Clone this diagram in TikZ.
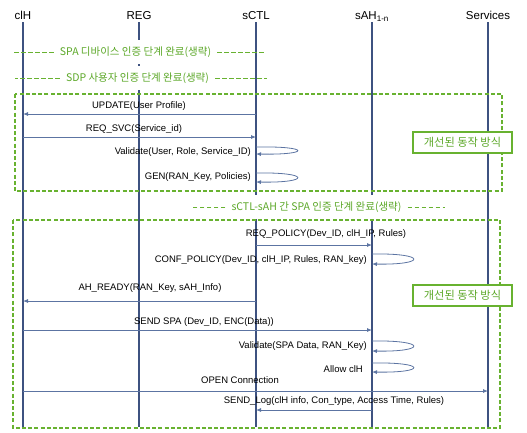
\documentclass[tikz,border=0pt]{standalone}
\usepackage{fontspec}
\setmainfont{Liberation Sans}
\newfontfamily\kr{Noto Sans CJK KR}
\usetikzlibrary{arrows.meta}

\definecolor{lifec}{RGB}{62,82,128}
\definecolor{msgc}{RGB}{92,116,162}
\definecolor{grn}{RGB}{104,178,48}
\definecolor{grntxt}{RGB}{92,168,40}

\tikzset{
  head/.style={font=\fontsize{11.5}{12}\selectfont, inner sep=1pt, text height=8.5pt, text depth=2pt},
  lifeline/.style={draw=lifec, line width=1.4pt},
  msg/.style={draw=msgc, line width=0.8pt, -{Latex[length=5pt,width=4pt]}},
  lbl/.style={font=\fontsize{9.5}{10}\selectfont, inner sep=1pt},
  phase/.style={font=\kr\fontsize{10.5}{12}\selectfont, text=grntxt, fill=white, inner xsep=6pt, inner ysep=7pt},
  phaseline/.style={draw=grn, line width=0.9pt, dash pattern=on 4.5pt off 2.5pt},
  area/.style={draw=grn, line width=1.5pt, dash pattern=on 4pt off 2.2pt},
  note/.style={font=\kr\fontsize{11.2}{12}\selectfont, text=grntxt, draw=grn, line width=1.2pt, fill=white, minimum width=99pt, minimum height=21pt}
}

\begin{document}
\begin{tikzpicture}[x=1pt,y=-1pt]
  \useasboundingbox (0,0) rectangle (527,432);

  % Participants
  \node[head] (clH) at (23,16) {clH};
  \node[head] (REG) at (139,16) {REG};
  \node[head] (sCTL) at (256,16) {sCTL};
  \node[head] (sAH) at (372,16) {sAH\textsubscript{1-n}};
  \node[head] (Services) at (488,16) {Services};
  \coordinate (bot) at (0,427);

  % Lifelines
  \foreach \p in {clH,REG,sCTL,sAH,Services} {
    \draw[lifeline] (\p.south) -- (\p.south |- bot);
  }

  % Improved areas
  \draw[area] (15,94) rectangle (502,191);
  \draw[area] (13,220) rectangle (500,428);

  % Skipped phases
  \node[phase] (ph1) at (135.5,52) {SPA 디바이스 인증 단계 완료(생략)};
  \draw[phaseline] (ph1.west) -- ++(-40,0);
  \draw[phaseline] (ph1.east) -- ++(47,0);

  \node[phase] (ph2) at (137.5,78) {SDP 사용자 인증 단계 완료(생략)};
  \draw[phaseline] (ph2.west) -- ++(-45,0);
  \draw[phaseline] (ph2.east) -- ++(52,0);

  \node[phase] (ph3) at (316.5,207) {sCTL-sAH 간 SPA 인증 단계 완료(생략)};
  \draw[phaseline] (ph3.west) -- ++(-32,0);
  \draw[phaseline] (ph3.east) -- ++(37,0);

  % First area
  \coordinate (m1) at (0,114);
  \node[lbl] (updL) at (139,106) {UPDATE(User Profile)};
  \draw[msg] (sCTL |- m1) -- (clH |- m1);

  \coordinate (m2) at (0,137);
  \node[lbl] (reqL) at (134,129) {REQ\_SVC(Service\_id)};
  \draw[msg] (clH |- m2) -- (sCTL |- m2);

  \coordinate (l1a) at (0,147);
  \coordinate (l1b) at (0,154);
  \node[lbl, anchor=east] (valL) at (252,152) {Validate(User, Role, Service\_ID)};
  \draw[msg] (sCTL |- l1a) .. controls +(55,-1) and +(55,1) .. (sCTL |- l1b);

  \coordinate (l2a) at (0,173);
  \coordinate (l2b) at (0,182);
  \node[lbl, anchor=east] (genL) at (252,177) {GEN(RAN\_Key, Policies)};
  \draw[msg] (sCTL |- l2a) .. controls +(55,-1) and +(55,1) .. (sCTL |- l2b);

  \node[note] (note1) at (462.5,142.5) {개선된 동작 방식};

  % Second area
  \coordinate (m3) at (0,245);
  \node[lbl] (polL) at (326,234) {REQ\_POLICY(Dev\_ID, clH\_IP, Rules)};
  \draw[msg] (sCTL |- m3) -- (sAH |- m3);

  \coordinate (l3a) at (0,254);
  \coordinate (l3b) at (0,264);
  \node[lbl, anchor=east] (confL) at (368,260) {CONF\_POLICY(Dev\_ID, clH\_IP, Rules, RAN\_key)};
  \draw[msg] (sAH |- l3a) .. controls +(55,-1) and +(55,1) .. (sAH |- l3b);

  \coordinate (m4) at (0,301);
  \node[lbl] (rdyL) at (150,288) {AH\_READY(RAN\_Key, sAH\_Info)};
  \draw[msg] (sCTL |- m4) -- (clH |- m4);

  \node[note] (note2) at (462.5,295.5) {개선된 동작 방식};

  \coordinate (m5) at (0,330);
  \node[lbl] (spaL) at (204,322) {SEND SPA (Dev\_ID, ENC(Data))};
  \draw[msg] (clH |- m5) -- (sAH |- m5);

  \coordinate (l4a) at (0,341);
  \coordinate (l4b) at (0,351);
  \node[lbl, anchor=east] (vspaL) at (368,346) {Validate(SPA Data, RAN\_Key)};
  \draw[msg] (sAH |- l4a) .. controls +(55,-1) and +(55,1) .. (sAH |- l4b);

  \coordinate (l5a) at (0,363);
  \coordinate (l5b) at (0,372);
  \node[lbl, anchor=east] (allowL) at (364,369) {Allow clH};
  \draw[msg] (sAH |- l5a) .. controls +(55,-1) and +(55,1) .. (sAH |- l5b);

  \coordinate (m6) at (0,391);
  \node[lbl] (openL) at (240,380) {OPEN Connection};
  \draw[msg] (clH |- m6) -- (Services |- m6);

  \coordinate (m7) at (0,410);
  \node[lbl] (logL) at (334,401) {SEND\_Log(clH info, Con\_type, Access Time, Rules)};
  \draw[msg] (sAH |- m7) -- (sCTL |- m7);
\end{tikzpicture}
\end{document}
